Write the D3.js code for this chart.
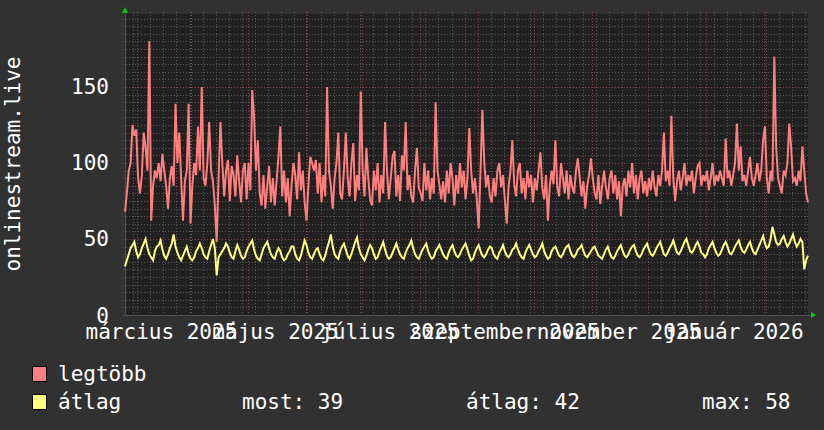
<!DOCTYPE html>
<html>
<head>
<meta charset="utf-8">
<style>
    body { margin: 0; background: #313131; }
    svg text { font-family: "DejaVu Sans Mono", monospace; fill: #ffffff; }
</style>
</head>
<body>
<div id="chart"></div>

<script src="https://d3js.org/d3.v7.min.js"></script>
<script>

    // daily values, first day 2025-02-24
    var legtobb = [
        68, 80, 95, 100, 125, 118, 122, 90, 80, 92,
        120, 110, 95, 180, 62, 85, 95, 90, 100, 88,
        106, 95, 85, 70, 90, 98, 85, 139, 100, 120,
        90, 62, 88, 95, 139, 60, 85, 100, 92, 124,
        95, 150, 90, 85, 100, 127, 95, 88, 72, 48,
        90, 127, 100, 78, 95, 102, 75, 98, 92, 78,
        105, 88, 74, 95, 100, 76, 100, 82, 148, 130,
        95, 115, 80, 72, 92, 70, 85, 98, 74, 90,
        72, 88, 104, 124, 78, 95, 74, 90, 65, 85,
        100, 92, 76, 107, 82, 95, 74, 62, 85, 104,
        100, 95, 102, 80, 100, 74, 92, 78, 150, 95,
        85, 70, 90, 100, 120, 80, 76, 95, 120, 90,
        78, 100, 113, 75, 92, 82, 147, 95, 78, 110,
        90, 76, 72, 95, 82, 100, 74, 92, 80, 127,
        95, 76, 90, 104, 108, 78, 92, 75, 105, 95,
        127, 82, 92, 78, 74, 95, 110, 84, 80, 75,
        100, 82, 95, 76, 90, 80, 140, 95, 86, 76,
        88, 74, 95, 80, 100, 90, 72, 92, 80, 100,
        84, 95, 76, 90, 123, 95, 80, 90, 76, 57,
        95, 135, 100, 84, 92, 78, 74, 90, 78, 95,
        100, 84, 92, 76, 60, 85, 95, 115, 86, 78,
        95, 100, 80, 90, 76, 95, 84, 92, 74, 90,
        82, 95, 107, 84, 76, 92, 62, 85, 95, 86,
        115, 84, 78, 100, 90, 80, 95, 76, 92, 84,
        80, 95, 103, 90, 78, 88, 70, 85, 92, 103,
        90, 80, 76, 92, 73, 85, 95, 84, 76, 90,
        95, 80, 92, 76, 88, 65, 85, 90, 78, 95,
        84, 100, 80, 92, 76, 90, 95, 80, 88, 78,
        90, 82, 95, 84, 78, 92, 85, 95, 120, 88,
        95, 85, 131, 90, 75, 88, 95, 82, 90, 100,
        85, 92, 88, 95, 80, 90, 98, 100, 85, 92,
        88, 95, 82, 90, 100, 85, 92, 88, 95, 90,
        85, 116, 90, 95, 85, 92, 100, 126, 95, 111,
        88, 92, 85, 95, 104, 90, 85, 92, 100, 88,
        95, 115, 124, 90, 80, 95, 88, 170, 110, 90,
        85, 80, 95, 92, 100, 126, 110, 88, 90, 85,
        95, 88, 111, 95, 80, 74
    ];
    var atlag = [
        32, 36, 40, 44, 46, 48, 42, 38, 40, 44,
        47, 50, 44, 40, 38, 36, 42, 45, 46, 49,
        43, 39, 37, 40, 44, 47, 53, 45, 41, 38,
        36, 39, 42, 45, 40, 37, 36, 38, 42, 44,
        47, 44, 40, 38, 37, 42, 46, 50, 44, 26,
        38, 40, 42, 44, 47, 45, 41, 38, 37, 42,
        46, 43, 39, 37, 38, 42, 45, 47, 49, 43,
        39, 37, 36, 40, 44, 46, 48, 44, 40, 38,
        37, 41, 44, 42, 38, 36, 37, 40, 42, 45,
        45, 40, 37, 36, 39, 44, 49, 46, 41, 38,
        37, 40, 43, 44, 40, 37, 36, 39, 44, 48,
        53, 45, 40, 38, 37, 42, 45, 47, 43, 39,
        37, 40, 44, 48, 51, 44, 40, 38, 36, 39,
        43, 46, 44, 40, 37, 38, 42, 45, 48, 43,
        39, 37, 38, 41, 44, 47, 43, 40, 38, 37,
        41, 44, 46, 49, 44, 40, 38, 37, 40, 43,
        45, 47, 42, 39, 37, 38, 42, 44, 46, 43,
        40, 38, 37, 41, 44, 46, 42, 39, 38, 40,
        43, 45, 47, 43, 39, 36, 37, 41, 44, 46,
        42, 39, 38, 40, 43, 45, 44, 40, 38, 37,
        41, 43, 46, 42, 39, 38, 40, 43, 44, 47,
        43, 40, 38, 37, 41, 44, 46, 43, 40, 38,
        39, 42, 44, 47, 42, 39, 37, 38, 42, 44,
        45, 42, 39, 38, 40, 43, 45, 46, 42, 39,
        38, 40, 43, 44, 46, 42, 39, 38, 40, 42,
        44, 45, 42, 39, 38, 37, 40, 43, 45, 41,
        38, 37, 39, 42, 44, 46, 42, 39, 38, 40,
        43, 45, 46, 42, 39, 38, 40, 43, 45, 47,
        43, 40, 39, 41, 44, 46, 48, 44, 40, 39,
        41, 44, 46, 49, 45, 41, 40, 42, 45, 48,
        50, 46, 42, 41, 43, 46, 48, 45, 41, 40,
        38, 40, 44, 46, 48, 44, 41, 39, 40, 43,
        46, 48, 45, 41, 40, 42, 45, 47, 49, 45,
        42, 41, 43, 46, 48, 44, 41, 40, 43, 46,
        49, 52, 47, 44, 45, 50, 58, 53, 48, 46,
        47, 50, 52, 48, 45, 47, 50, 53, 48, 45,
        47, 50, 48, 30, 36, 39
    ];
    var yTicks = [0, 50, 100, 150];
    var monthLabels = ["március 2025", "május 2025", "július 2025",
        "szeptember 2025", "november 2025", "január 2026"];
    var legendNames = ["legtöbb", "átlag"];
    var legendStats = ["most: 39", "átlag: 42", "max: 58"];

    var width = 824, height = 430;
    var pLeft = 125, pRight = 808, pTop = 14, pBottom = 315;
    var red = "#ff7f7f", yellow = "#ffff7f";

    var start = new Date(Date.UTC(2025, 1, 24, 12));
    var end = new Date(Date.UTC(2026, 1, 24, 12));
    var dates = legtobb.map(function(d, i) { return d3.utcDay.offset(start, i); });

    var x = d3.scaleUtc().domain([start, end]).range([pLeft, pRight]);
    var y = d3.scaleLinear().domain([0, 198]).range([pBottom, pTop]);

    var svg = d3.select("#chart")
        .append("svg")
        .attr("width", width)
        .attr("height", height);

    svg.append("rect")
        .attr("width", width).attr("height", height)
        .attr("fill", "#313131");

    svg.append("rect")
        .attr("x", pLeft).attr("y", pTop)
        .attr("width", pRight - pLeft).attr("height", pBottom - pTop)
        .attr("fill", "#212121");

    // minor grid: every 5 on y, weekly (mondays) on x
    var minorY = d3.range(5, 198, 5).filter(function(v) { return v % 50 != 0; });
    svg.selectAll(".hminor")
        .data(minorY)
        .enter()
        .append("line")
        .attr("x1", pLeft - 2).attr("x2", pRight + 2)
        .attr("y1", function(d) { return Math.round(y(d)) + 0.5; })
        .attr("y2", function(d) { return Math.round(y(d)) + 0.5; })
        .attr("stroke", "#585858")
        .attr("stroke-dasharray", "1,2");

    svg.selectAll(".vminor")
        .data(d3.utcMonday.range(start, end))
        .enter()
        .append("line")
        .attr("x1", function(d) { return Math.round(x(d)) + 0.5; })
        .attr("x2", function(d) { return Math.round(x(d)) + 0.5; })
        .attr("y1", pTop - 2).attr("y2", pBottom + 2)
        .attr("stroke", "#585858")
        .attr("stroke-dasharray", "1,2");

    // major grid
    svg.selectAll(".hmajor")
        .data(yTicks)
        .enter()
        .append("line")
        .attr("x1", pLeft - 2).attr("x2", pRight + 2)
        .attr("y1", function(d) { return Math.round(y(d)) + 0.5; })
        .attr("y2", function(d) { return Math.round(y(d)) + 0.5; })
        .attr("stroke", "#8a4040")
        .attr("stroke-dasharray", "1,2");

    var months = d3.utcMonth.range(start, end);
    svg.selectAll(".vmajor")
        .data(months)
        .enter()
        .append("line")
        .attr("x1", function(d) { return Math.round(x(d)) + 0.5; })
        .attr("x2", function(d) { return Math.round(x(d)) + 0.5; })
        .attr("y1", pTop - 2).attr("y2", pBottom + 3)
        .attr("stroke", "#8a4040")
        .attr("stroke-dasharray", "1,2");

    // axes lines
    svg.append("line")
        .attr("x1", pLeft + 0.5).attr("x2", pLeft + 0.5)
        .attr("y1", pTop - 2).attr("y2", pBottom)
        .attr("stroke", "#505050");
    svg.append("line")
        .attr("x1", pLeft).attr("x2", pRight + 3)
        .attr("y1", pBottom + 0.5).attr("y2", pBottom + 0.5)
        .attr("stroke", "#505050");

    // data lines
    var line = d3.line()
        .x(function(d, i) { return x(dates[i]); })
        .y(function(d) { return y(d); });

    svg.append("path")
        .datum(atlag)
        .attr("d", line)
        .attr("fill", "none")
        .attr("stroke", yellow)
        .attr("stroke-width", 2);

    svg.append("path")
        .datum(legtobb)
        .attr("d", line)
        .attr("fill", "none")
        .attr("stroke", red)
        .attr("stroke-width", 2);

    // arrows
    svg.append("path")
        .attr("d", "M122,13L128,13L125,7Z")
        .attr("fill", "#00cc00");
    svg.append("path")
        .attr("d", "M811,312L811,318L816,315Z")
        .attr("fill", "#00cc00");

    // y tick labels
    svg.selectAll(".ylab")
        .data(yTicks)
        .enter()
        .append("text")
        .attr("x", 109)
        .attr("y", function(d) { return y(d) + 7.5; })
        .attr("text-anchor", "end")
        .style("font-size", "21px")
        .text(function(d) { return d; });

    // x labels, centred in the month
    var labelMonths = months.filter(function(d) { return d.getUTCMonth() % 2 == 0; });
    svg.selectAll(".xlab")
        .data(labelMonths)
        .enter()
        .append("text")
        .attr("x", function(d) { return (x(d) + x(d3.utcMonth.offset(d, 1))) / 2 - 1; })
        .attr("y", 339)
        .attr("text-anchor", "middle")
        .style("font-size", "21px")
        .text(function(d, i) { return monthLabels[i]; });

    svg.append("text")
        .attr("transform", "translate(20,164) rotate(-90)")
        .attr("text-anchor", "middle")
        .style("font-size", "21px")
        .text("onlinestream.live");

    // legend
    var legend = svg.selectAll(".leg")
        .data(legendNames)
        .enter()
        .append("g")
        .attr("transform", function(d, i) { return "translate(0," + (i * 28) + ")"; });

    legend.append("rect")
        .attr("x", 32.5).attr("y", 366.5)
        .attr("width", 14).attr("height", 15)
        .attr("fill", function(d, i) { return i == 0 ? red : yellow; })
        .attr("stroke", "#000");

    legend.append("text")
        .attr("x", 58).attr("y", 381)
        .style("font-size", "21px")
        .text(function(d) { return d; });

    svg.selectAll(".stat")
        .data(legendStats)
        .enter()
        .append("text")
        .attr("x", function(d, i) { return [242, 466, 702][i]; })
        .attr("y", 409)
        .style("font-size", "21px")
        .text(function(d) { return d; });

</script>
</body>
</html>
